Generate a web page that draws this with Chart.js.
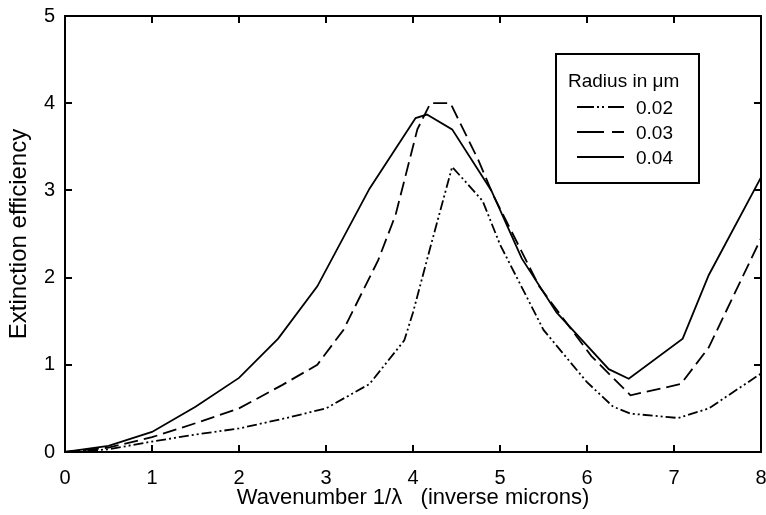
<!DOCTYPE html>
<html>
<head>
<meta charset="utf-8">
<script src="https://cdn.jsdelivr.net/npm/chart.js@4/dist/chart.umd.min.js"></script>
<style>
  html, body { margin: 0; padding: 0; background: #fff; }
  #wrap { width: 766px; height: 515px; }
</style>
</head>
<body>
<div id="wrap"><canvas id="myChart" width="766" height="515"></canvas></div>
<script>
// wavenumber (1/micron) and extinction efficiency
const x002 = [0, 0.5, 1, 1.5, 2, 2.5, 3, 3.5, 3.9, 4.0, 4.2, 4.45, 4.8, 5.0, 5.5, 6.0, 6.3, 6.5, 7.05, 7.4, 8];
const y002 = [0, 0.03, 0.12, 0.2, 0.27, 0.38, 0.5, 0.78, 1.28, 1.6, 2.35, 3.27, 2.88, 2.38, 1.4, 0.8, 0.52, 0.44, 0.39, 0.5, 0.9];

const x003 = [0, 0.5, 1, 1.5, 2, 2.5, 2.9, 3.2, 3.6, 3.8, 4.05, 4.2, 4.43, 4.75, 4.92, 5.45, 6.05, 6.5, 7.08, 7.4, 8];
const y003 = [0, 0.05, 0.17, 0.33, 0.5, 0.77, 1.0, 1.4, 2.2, 2.72, 3.7, 4.0, 4.0, 3.35, 2.95, 1.9, 1.1, 0.65, 0.78, 1.2, 2.45];

const x004 = [0, 0.5, 1, 1.5, 2, 2.45, 2.9, 3.5, 4.03, 4.16, 4.45, 4.9, 5.25, 5.65, 6.25, 6.48, 7.1, 7.4, 8];
const y004 = [0, 0.07, 0.23, 0.52, 0.85, 1.3, 1.9, 3.02, 3.83, 3.87, 3.7, 3.0, 2.22, 1.6, 0.95, 0.84, 1.3, 2.03, 3.15];

const seriesLabels = ["0.02", "0.03", "0.04"];
const legendTitle = "Radius in \u03bcm";
const xTitle = "Wavenumber 1/\u03bb   (inverse microns)";
const yTitle = "Extinction efficiency";

const FONT = "'Liberation Sans', Arial, sans-serif";

function pts(xs, ys) {
  return xs.map((x, i) => ({ x: x, y: ys[i] }));
}

// inward ticks on all four sides + box frame
const frameTicks = {
  id: "frameTicks",
  afterDatasetsDraw(chart) {
    const { ctx, chartArea: a, scales } = chart;
    ctx.save();
    ctx.strokeStyle = "#000";
    ctx.lineWidth = 2;
    ctx.strokeRect(a.left, a.top, a.right - a.left, a.bottom - a.top);
    const len = 7;
    scales.x.ticks.forEach((t) => {
      const px = Math.round(scales.x.getPixelForValue(t.value));
      ctx.beginPath();
      ctx.moveTo(px, a.bottom); ctx.lineTo(px, a.bottom - len);
      ctx.moveTo(px, a.top); ctx.lineTo(px, a.top + len);
      ctx.stroke();
    });
    scales.y.ticks.forEach((t) => {
      const py = Math.round(scales.y.getPixelForValue(t.value));
      ctx.beginPath();
      ctx.moveTo(a.left, py); ctx.lineTo(a.left + len, py);
      ctx.moveTo(a.right, py); ctx.lineTo(a.right - len, py);
      ctx.stroke();
    });
    ctx.restore();
  },
};

// boxed legend in the upper right like the original
const boxLegend = {
  id: "boxLegend",
  afterDraw(chart) {
    const ctx = chart.ctx;
    const bx = 556, by = 54, bw = 143, bh = 129;
    ctx.save();
    ctx.fillStyle = "#fff";
    ctx.fillRect(bx, by, bw, bh);
    ctx.strokeStyle = "#000";
    ctx.lineWidth = 2;
    ctx.strokeRect(bx, by, bw, bh);
    ctx.fillStyle = "#000";
    ctx.font = "19px " + FONT;
    ctx.textBaseline = "alphabetic";
    ctx.fillText(legendTitle, 568, 87);
    chart.data.datasets.forEach((ds, i) => {
      const ly = 107 + i * 25;
      ctx.beginPath();
      ctx.setLineDash(ds.legendDash);
      ctx.lineWidth = 1.8;
      ctx.moveTo(577, ly);
      ctx.lineTo(624, ly);
      ctx.stroke();
      ctx.setLineDash([]);
      ctx.fillText(ds.label, 636, ly + 7);
    });
    ctx.restore();
  },
};

const ctx = document.getElementById("myChart").getContext("2d");

const myChart = new Chart(ctx, {
  type: "scatter",
  data: {
    datasets: [
      {
        label: seriesLabels[0],
        data: pts(x002, y002),
        borderDash: [10, 3, 2, 3, 2, 3],
        legendDash: [17, 3, 2, 3, 2, 4],
      },
      {
        label: seriesLabels[1],
        data: pts(x003, y003),
        borderDash: [14, 6],
        legendDash: [27, 8],
      },
      {
        label: seriesLabels[2],
        data: pts(x004, y004),
        borderDash: [],
        legendDash: [],
      },
    ].map((d) => Object.assign(d, {
      showLine: true,
      borderColor: "#000",
      backgroundColor: "#000",
      borderWidth: 1.8,
      pointRadius: 0,
      tension: 0,
      fill: false,
    })),
  },
  plugins: [frameTicks, boxLegend],
  options: {
    responsive: false,
    animation: false,
    layout: { padding: { top: 16, right: 5, left: 0, bottom: 0 } },
    plugins: {
      legend: { display: false },
      tooltip: { enabled: false },
    },
    scales: {
      x: {
        type: "linear",
        min: 0,
        max: 8,
        afterFit: (s) => {
          s.height = 63;
          s.paddingLeft = 0;
          s.paddingRight = 0;
        },
        grid: { display: false, drawTicks: false },
        border: { display: false },
        ticks: {
          stepSize: 1,
          padding: 14,
          color: "#000",
          font: { family: FONT, size: 20 },
        },
        title: {
          display: true,
          text: xTitle,
          color: "#000",
          font: { family: FONT, size: 22 },
          padding: { top: 0, bottom: 4 },
        },
      },
      y: {
        type: "linear",
        min: 0,
        max: 5,
        afterFit: (s) => {
          s.width = 65;
          s.paddingTop = 0;
          s.paddingBottom = 0;
        },
        grid: { display: false, drawTicks: false },
        border: { display: false },
        ticks: {
          stepSize: 1,
          padding: 10,
          color: "#000",
          font: { family: FONT, size: 20 },
        },
        title: {
          display: true,
          text: yTitle,
          color: "#000",
          font: { family: FONT, size: 24 },
          padding: { top: 5, bottom: 4 },
        },
      },
    },
  },
});
</script>
</body>
</html>
